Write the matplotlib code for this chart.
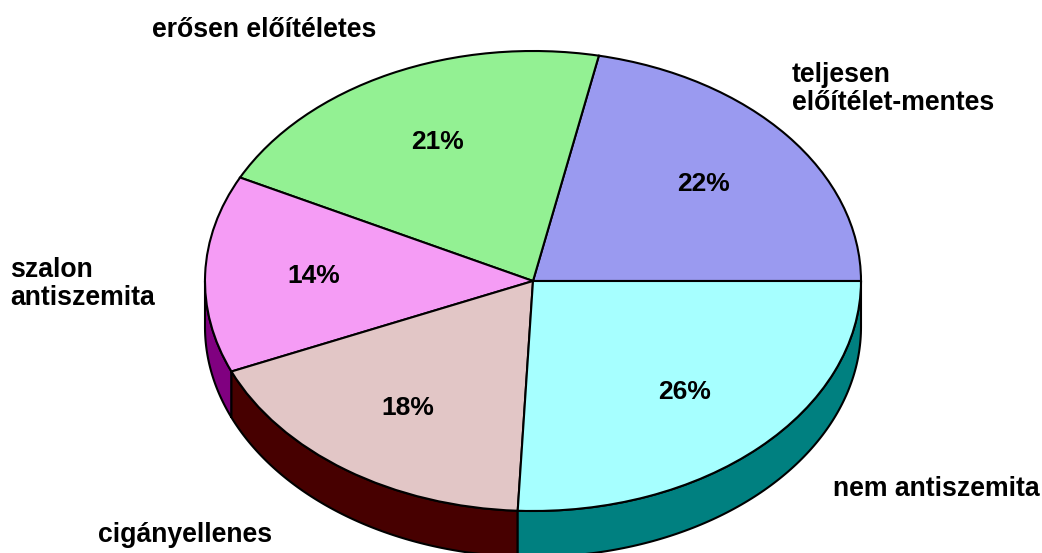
import numpy as np
import matplotlib
matplotlib.use("Agg")
import matplotlib.pyplot as plt
from matplotlib.patches import Polygon

plt.rcParams['font.family'] = ['Liberation Sans', 'DejaVu Sans']

# survey shares, in pie order (counter-clockwise from 3 o'clock)
categories = ["teljesen\nelőítélet-mentes", "erősen előítéletes", "szalon\nantiszemita",
              "cigányellenes", "nem antiszemita"]
values = [22, 21, 14, 18, 26]
top_colors = ["#9a9af0", "#93f193", "#f59cf5", "#e2c6c6", "#a6ffff"]
side_colors = ["#3a3a9a", "#2e8a2e", "#800080", "#470000", "#008080"]

W, H = 1042, 553
cx, cy, rx, ry = 533, 281, 328, 230
depth = 0.2

fig = plt.figure(figsize=(W / 100, H / 100), dpi=100)
ax = fig.add_axes([0, 0, 1, 1])

wedges, texts, autotexts = ax.pie(
    values, startangle=0, counterclock=True, colors=top_colors,
    autopct=lambda p: f"{p:.0f}%", pctdistance=0.67,
    wedgeprops=dict(edgecolor="black", linewidth=1.5, zorder=2),
    textprops=dict(fontsize=19, fontweight="bold", color="black"))
for t in autotexts:
    t.set_zorder(5)

# side walls of the front half
edges = np.concatenate([[0], np.cumsum(values)]) / sum(values) * 360
for i in range(len(values)):
    lo, hi = max(edges[i], 180), min(edges[i + 1], 360)
    if hi <= lo:
        continue
    t = np.radians(np.linspace(lo, hi, 120))
    top = np.column_stack([np.cos(t), np.sin(t)])
    bot = np.column_stack([np.cos(t), np.sin(t) - depth])[::-1]
    ax.add_patch(Polygon(np.vstack([top, bot]), closed=True,
                         facecolor=side_colors[i], edgecolor="black",
                         linewidth=1.5, zorder=1))

ax.set_aspect("auto")
ax.set_xlim((0 - cx) / rx, (W - cx) / rx)
ax.set_ylim((cy - H) / ry, (cy - 0) / ry)
ax.axis("off")

# outer labels
label_pos = [
    [(792, 82), (792, 110)],
    [(152, 37)],
    [(10, 277), (10, 305)],
    [(98, 542)],
    [(833, 496)],
]
for name, pos in zip(categories, label_pos):
    for line, (x, y) in zip(name.split("\n"), pos):
        fig.text(x / W, 1 - y / H, line, fontsize=19.2, fontweight="bold",
                 ha="left", va="baseline")

fig.savefig("out.png", dpi=100)
